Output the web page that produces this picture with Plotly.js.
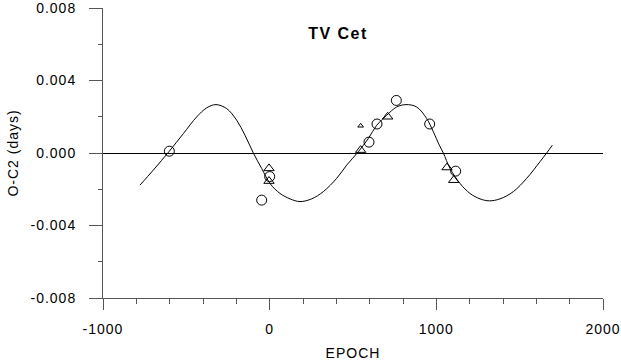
<!DOCTYPE html>
<html>
<head>
<meta charset="utf-8">
<script src="https://cdn.plot.ly/plotly-3.0.1.min.js"></script>
<style>
  html, body { margin: 0; padding: 0; background: #fff; }
  #chart { width: 621px; height: 361px; }
  .xtick text, .ytick text, .g-xtitle text, .g-ytitle text { letter-spacing: 1px; }
  .gtitle { letter-spacing: 1.5px; }
</style>
</head>
<body>
<div id="chart"></div>
<script>
// Observed O-C2 values (circles)
const circleEpoch = [-602, -48, 0, 596, 644, 760, 960, 1116];
const circleOC = [0.0001, -0.0026, -0.0013, 0.0006, 0.0016, 0.0029, 0.0016, -0.0010];

// Observed O-C2 values (triangles)
const triEpoch = [-4, -4, 546, 708, 1064, 1104];
const triOC = [-0.00085, -0.00155, 0.00016, 0.0020, -0.0008, -0.0015];

// Small triangle
const smallTriEpoch = [546];
const smallTriOC = [0.0015];

// Fitted curve
const fitEpoch = [-778, -698, -602, -518, -438, -378, -322, -258, -198, -148, -98, -48, 2, 62, 122, 182, 252, 322, 402, 462, 532, 592, 642, 702, 762, 818, 882, 942, 982, 1018, 1042, 1082, 1142, 1202, 1262, 1318, 1382, 1462, 1542, 1622, 1662, 1696];
const fitOC = [-0.00177, -0.00094, 0.0001, 0.00107, 0.00199, 0.00249, 0.00267, 0.00245, 0.00181, 0.00098, 0.0, -0.00085, -0.00168, -0.00223, -0.00253, -0.00268, -0.00253, -0.00213, -0.0014, -0.00067, 0.00007, 0.0008, 0.00153, 0.00208, 0.00254, 0.00267, 0.00254, 0.0019, 0.00117, 0.00043, 0.0, -0.00085, -0.00168, -0.00223, -0.00253, -0.00264, -0.00253, -0.00213, -0.0014, -0.00048, 0.0, 0.00043];

const xTickVals = [-1000, 0, 1000, 2000];
const yTickVals = [-0.008, -0.004, 0, 0.004, 0.008];

const FONT = 'Liberation Sans, Arial, sans-serif';

const traces = [
  {
    x: fitEpoch, y: fitOC, type: 'scatter', mode: 'lines',
    line: { color: '#000', width: 1, shape: 'spline', smoothing: 1 },
    hoverinfo: 'skip', cliponaxis: false
  },
  {
    x: circleEpoch, y: circleOC, type: 'scatter', mode: 'markers',
    marker: { symbol: 'circle-open', size: 10, color: '#000', line: { width: 1, color: '#000' } }
  },
  {
    x: triEpoch, y: triOC, type: 'scatter', mode: 'markers',
    marker: { symbol: 'triangle-up-open', size: 9, color: '#000', line: { width: 1, color: '#000' } }
  },
  {
    x: smallTriEpoch, y: smallTriOC, type: 'scatter', mode: 'markers',
    marker: { symbol: 'triangle-up-open', size: 5, color: '#000', line: { width: 1, color: '#000' } }
  }
];

const layout = {
  width: 621, height: 361,
  margin: { l: 103, r: 18, t: 8, b: 63, pad: 0 },
  paper_bgcolor: '#fff', plot_bgcolor: '#fff',
  showlegend: false,
  font: { family: FONT, size: 14, color: '#000' },
  title: {
    text: '<b>TV Cet</b>',
    font: { family: FONT, size: 16, color: '#000' },
    xref: 'container', yref: 'container',
    x: 338 / 621, y: 1 - 33 / 361,
    xanchor: 'center', yanchor: 'middle'
  },
  xaxis: {
    range: [-1000, 2000],
    tickvals: xTickVals,
    ticktext: xTickVals.map(String),
    ticks: 'outside', ticklen: 11, tickwidth: 1, tickcolor: '#555',
    minor: { dtick: 200, ticks: 'outside', ticklen: 5, tickwidth: 1, tickcolor: '#555' },
    showline: true, linecolor: '#555', linewidth: 1,
    showgrid: false, zeroline: false,
    ticklabelstandoff: 7,
    ticklabeloverflow: 'allow',
    tickfont: { family: FONT, size: 14, color: '#000' },
    title: { text: 'EPOCH', font: { family: FONT, size: 14, color: '#000' }, standoff: 15 }
  },
  yaxis: {
    range: [-0.008, 0.008],
    tickvals: yTickVals,
    ticktext: yTickVals.map(v => v.toFixed(3)),
    ticks: 'outside', ticklen: 13, tickwidth: 1, tickcolor: '#555',
    minor: { dtick: 0.002, ticks: 'outside', ticklen: 4, tickwidth: 1, tickcolor: '#555' },
    showline: true, linecolor: '#555', linewidth: 1,
    showgrid: false,
    zeroline: true, zerolinecolor: '#000', zerolinewidth: 1,
    ticklabelstandoff: 10,
    ticklabeloverflow: 'allow',
    tickfont: { family: FONT, size: 14, color: '#000' },
    title: { text: 'O-C2 (days)', font: { family: FONT, size: 14, color: '#000' }, standoff: 8 }
  }
};

Plotly.newPlot('chart', traces, layout, { displayModeBar: false, staticPlot: true });
</script>
</body>
</html>
